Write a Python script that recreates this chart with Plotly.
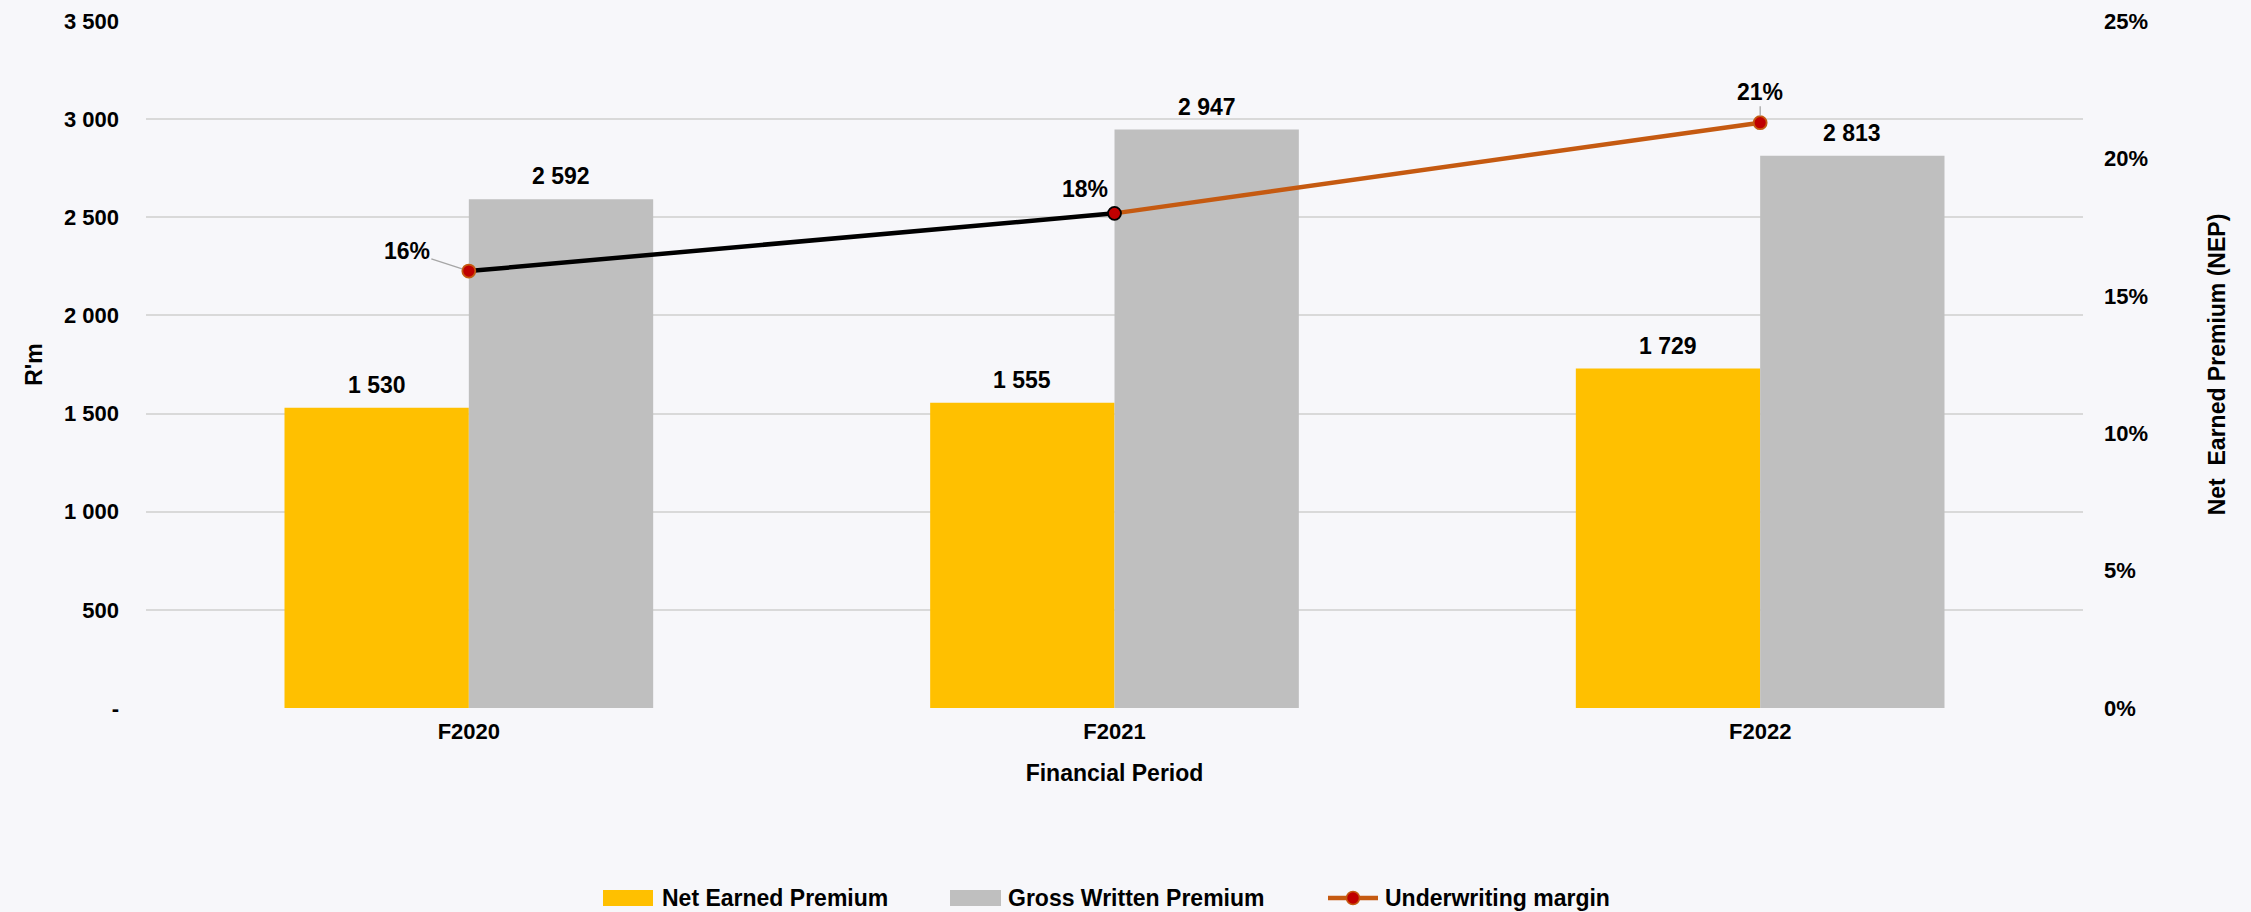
import plotly.graph_objects as go

# Financial periods and series values (R'm and underwriting margin ratio)
periods = ["F2020", "F2021", "F2022"]
net_earned_premium = [1530, 1555, 1729]
gross_written_premium = [2592, 2947, 2813]
underwriting_margin = [0.159, 0.180, 0.213]

left_tick_values = [0, 500, 1000, 1500, 2000, 2500, 3000, 3500]
left_tick_text = ["-", "500", "1 000", "1 500", "2 000", "2 500", "3 000", "3 500"]
right_tick_values = [0, 0.05, 0.10, 0.15, 0.20, 0.25]

series_names = ["Net Earned Premium", "Gross Written Premium", "Underwriting margin"]

YELLOW = "#FFC000"
GREY = "#BFBFBF"
ORANGE = "#C55A11"
RED = "#C00000"
BASE_FONT = "Liberation Sans, Arial, sans-serif"
NARROW_FONT = "Liberation Sans Narrow, Arial Narrow, Liberation Sans, sans-serif"

W, H = 2251, 912
M_L, M_R, M_T, M_B = 146, 168, 21, 204
BAR_GAP = 0.429
plot_w = W - M_L - M_R
plot_h = H - M_T - M_B


def thousands(v):
    return f"{v:,}".replace(",", " ")


def px_x(x):
    return (x - M_L) / plot_w


def px_y(y):
    return (H - M_B - y) / plot_h


fig = go.Figure()

fig.add_trace(go.Bar(
    x=periods, y=net_earned_premium, name=series_names[0],
    marker=dict(color=YELLOW, line=dict(width=0)), showlegend=False,
))
fig.add_trace(go.Bar(
    x=periods, y=gross_written_premium, name=series_names[1],
    marker=dict(color=GREY, line=dict(width=0)), showlegend=False,
))

# Underwriting margin: first segment black, second segment orange
fig.add_trace(go.Scatter(
    x=periods[0:2], y=underwriting_margin[0:2], yaxis="y2", mode="lines",
    line=dict(color="#000000", width=4.5), showlegend=False, hoverinfo="skip",
))
fig.add_trace(go.Scatter(
    x=periods[1:3], y=underwriting_margin[1:3], yaxis="y2", mode="lines",
    line=dict(color=ORANGE, width=4.5), showlegend=False, hoverinfo="skip",
))
fig.add_trace(go.Scatter(
    x=periods, y=underwriting_margin, yaxis="y2", mode="markers",
    name=series_names[2],
    marker=dict(size=13, color=RED,
                line=dict(color=[ORANGE, "#000000", ORANGE], width=1.8)),
    showlegend=False,
))

# Value labels above the bars
cat_w = plot_w / len(periods)
bar_w = cat_w * (1 - BAR_GAP) / 2
annotations = []
for i, p in enumerate(periods):
    for val, shift in ((net_earned_premium[i], -bar_w / 2), (gross_written_premium[i], bar_w / 2)):
        annotations.append(dict(
            x=p, y=val, xref="x", yref="y", text=thousands(val),
            showarrow=False, xshift=shift, yanchor="bottom", yshift=8,
            font=dict(family=BASE_FONT, size=23, color="#000000", weight="bold"),
        ))

# Margin labels with leader lines
label_offsets = [(-62, -20, True), (-30, -24, False), (0, -31, True)]
for i, p in enumerate(periods):
    ax, ay, arrow = label_offsets[i]
    annotations.append(dict(
        x=p, y=underwriting_margin[i], xref="x", yref="y2",
        text=f"{underwriting_margin[i]:.0%}",
        showarrow=True, arrowhead=0, arrowwidth=1.3,
        arrowcolor="#A6A6A6" if arrow else "rgba(0,0,0,0)",
        ax=ax, ay=ay, standoff=7,
        font=dict(family=BASE_FONT, size=23, color="#000000", weight="bold"),
    ))

# Legend drawn along the bottom
shapes = []
leg_y = 898
legend_items = [
    ("rect", YELLOW, 603, 653, series_names[0], 660),
    ("rect", GREY, 950, 1001, series_names[1], 1006),
    ("line", ORANGE, 1328, 1378, series_names[2], 1383),
]
for kind, color, x0, x1, label, tx in legend_items:
    if kind == "rect":
        shapes.append(dict(type="rect", xref="paper", yref="paper",
                           x0=px_x(x0), x1=px_x(x1),
                           y0=px_y(leg_y + 8), y1=px_y(leg_y - 8),
                           fillcolor=color, line=dict(width=0), layer="above"))
    else:
        yy = px_y(leg_y)
        shapes.append(dict(type="line", xref="paper", yref="paper",
                           x0=px_x(x0), x1=px_x(x1),
                           y0=yy, y1=yy, line=dict(color=color, width=4.5), layer="above"))
        cx = px_x((x0 + x1) / 2)
        r = 6.5
        shapes.append(dict(type="circle", xref="paper", yref="paper",
                           x0=cx - r / plot_w, x1=cx + r / plot_w,
                           y0=yy - r / plot_h, y1=yy + r / plot_h,
                           fillcolor=RED, line=dict(color=ORANGE, width=1.5), layer="above"))
    annotations.append(dict(
        x=px_x(tx), y=px_y(leg_y),
        xref="paper", yref="paper", xanchor="left", yanchor="middle",
        text=label, showarrow=False,
        font=dict(family=NARROW_FONT, size=23, color="#000000", weight="bold"),
    ))

fig.update_layout(
    width=W, height=H,
    margin=dict(l=M_L, r=M_R, t=M_T, b=M_B, autoexpand=False),
    paper_bgcolor="#F7F7FA",
    plot_bgcolor="rgba(0,0,0,0)",
    barmode="group", bargap=BAR_GAP, bargroupgap=0,
    showlegend=False,
    font=dict(family=BASE_FONT, color="#000000"),
    xaxis=dict(
        type="category", showgrid=False, showline=False, zeroline=False,
        ticks="", tickfont=dict(family=BASE_FONT, size=22, weight="bold"),
        ticklabelstandoff=8,
        title=dict(text="Financial Period", standoff=21,
                   font=dict(family=BASE_FONT, size=23, weight="bold")),
    ),
    yaxis=dict(
        range=[0, 3500], tickvals=left_tick_values, ticktext=left_tick_text,
        showgrid=True, gridcolor="#D9D9D9", gridwidth=1.5, zeroline=False,
        showline=False, ticks="", ticklabelstandoff=26,
        tickfont=dict(family=BASE_FONT, size=22, weight="bold"),
        title=dict(text="R'm", standoff=14,
                   font=dict(family=BASE_FONT, size=23, weight="bold")),
    ),
    yaxis2=dict(
        overlaying="y", side="right", range=[0, 0.25],
        tickvals=right_tick_values, tickformat=".0%",
        showgrid=False, zeroline=False, showline=False, ticks="",
        ticklabelstandoff=20,
        tickfont=dict(family=BASE_FONT, size=22, weight="bold"),
        title=dict(text="Net  Earned Premium (NEP)", standoff=61,
                   font=dict(family=NARROW_FONT, size=23, weight="bold")),
    ),
    annotations=annotations,
    shapes=shapes,
)

fig.write_html("out.html")
